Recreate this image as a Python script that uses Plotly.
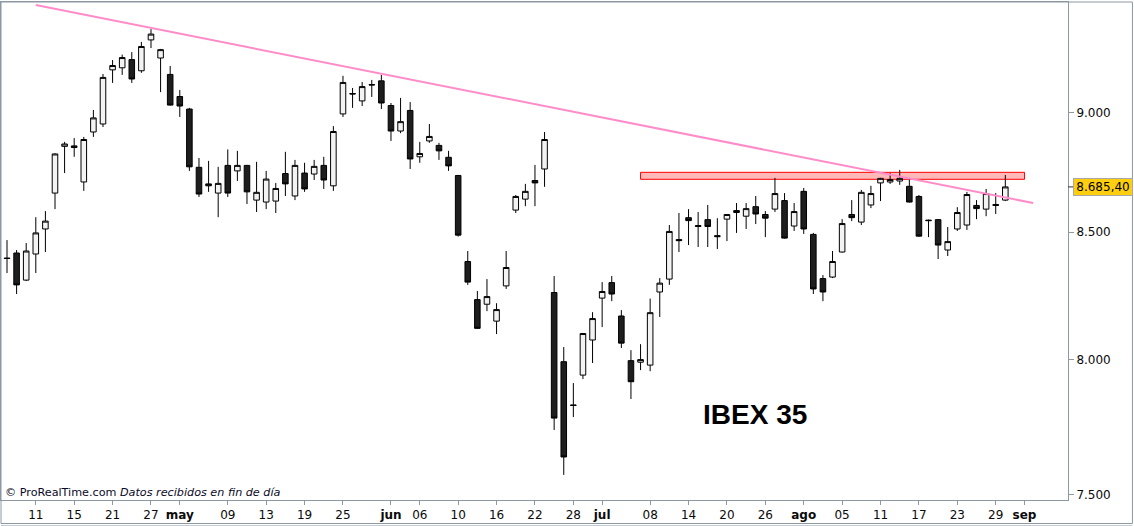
import math
import pandas as pd
import plotly.graph_objects as go

# ---------------- data (IBEX 35, daily candles) ----------------
start_date = "2016-04-06"
end_date = "2016-09-01"

opens = [8396, 8416, 8308, 8412, 8513, 8660, 8855, 8857, 8706, 8916,
         8950, 9184, 9193, 9229, 9180, 9316, 9236, 9164, 9068, 9014,
         8767, 8698, 8660, 8775, 8752, 8775, 8631, 8623, 8627, 8741,
         8648, 8743, 8739, 8775, 8690, 8993, 9081, 9049, 9120, 9136,
         9029, 8920, 9008, 8811, 8878, 8859, 8809, 8733, 8382, 8231,
         8213, 8147, 8285, 8590, 8635, 8712, 8760, 8259, 7991, 7828,
         7940, 8074, 8237, 8298, 8167, 7995, 7989, 7978, 8261, 8312,
         8470, 8559, 8527, 8551, 8486, 8553, 8588, 8565, 8604, 8572,
         8594, 8629, 8525, 8667, 8491, 8314, 8320, 8420, 8572, 8541,
         8611, 8702, 8706, 8710, 8688, 8646, 8549, 8551, 8428, 8513,
         8529, 8609, 8594, 8613, 8631]

highs = [8468, 8428, 8456, 8561, 8586, 8826, 8874, 8890, 8895, 9010,
         9166, 9227, 9251, 9262, 9307, 9364, 9276, 9201, 9096, 9019,
         8806, 8794, 8769, 8842, 8836, 8777, 8790, 8752, 8702, 8832,
         8798, 8786, 8798, 8811, 8941, 9158, 9105, 9131, 9140, 9162,
         9040, 9062, 9044, 8874, 8950, 8870, 8836, 8735, 8424, 8265,
         8312, 8217, 8424, 8652, 8698, 8777, 8916, 8324, 8047, 7910,
         8101, 8182, 8300, 8324, 8190, 8035, 8058, 8235, 8316, 8529,
         8578, 8594, 8582, 8611, 8557, 8574, 8619, 8619, 8648, 8586,
         8723, 8660, 8619, 8681, 8497, 8328, 8424, 8553, 8631, 8673,
         8690, 8723, 8743, 8756, 8718, 8652, 8551, 8553, 8521, 8602,
         8665, 8631, 8677, 8660, 8735]

lows = [8336, 8253, 8304, 8336, 8420, 8594, 8743, 8811, 8669, 8895,
        8937, 9127, 9162, 9127, 9171, 9280, 9087, 9029, 8980, 8752,
        8644, 8665, 8561, 8644, 8710, 8615, 8582, 8594, 8578, 8648,
        8631, 8665, 8714, 8677, 8669, 8980, 9019, 9027, 9066, 9014,
        8878, 8911, 8760, 8786, 8870, 8798, 8752, 8482, 8289, 8117,
        8186, 8097, 8273, 8578, 8606, 8606, 8686, 7735, 7571, 7783,
        7925, 7986, 8124, 8225, 8043, 7850, 7959, 7955, 8163, 8289,
        8420, 8448, 8440, 8440, 8432, 8464, 8497, 8513, 8533, 8480,
        8582, 8474, 8505, 8493, 8253, 8225, 8316, 8418, 8545, 8529,
        8598, 8627, 8698, 8694, 8621, 8482, 8480, 8392, 8404, 8505,
        8509, 8553, 8565, 8574, 8627]

closes = [8394, 8289, 8424, 8497, 8545, 8823, 8865, 8850, 8884, 8976,
          9151, 9203, 9238, 9144, 9287, 9342, 9273, 9031, 9027, 8769,
          8656, 8690, 8700, 8660, 8775, 8665, 8663, 8718, 8679, 8698,
          8775, 8677, 8771, 8714, 8918, 9129, 9079, 9111, 9118, 9040,
          8920, 8960, 8802, 8825, 8897, 8836, 8773, 8488, 8300, 8119,
          8243, 8192, 8358, 8646, 8667, 8702, 8884, 7779, 7636, 7826,
          8099, 8157, 8263, 8253, 8062, 7915, 7999, 8180, 8296, 8503,
          8466, 8547, 8523, 8523, 8482, 8572, 8580, 8596, 8574, 8557,
          8658, 8476, 8584, 8513, 8273, 8261, 8382, 8535, 8559, 8663,
          8658, 8721, 8716, 8721, 8623, 8484, 8547, 8448, 8462, 8580,
          8654, 8596, 8658, 8609, 8685.40]

tick_dates = ["2016-04-11", "2016-04-15", "2016-04-21", "2016-04-27", "2016-05-02",
              "2016-05-09", "2016-05-13", "2016-05-19", "2016-05-25", "2016-06-01",
              "2016-06-06", "2016-06-10", "2016-06-16", "2016-06-22", "2016-06-28",
              "2016-07-01", "2016-07-08", "2016-07-14", "2016-07-20", "2016-07-26",
              "2016-08-01", "2016-08-05", "2016-08-11", "2016-08-17", "2016-08-23",
              "2016-08-29", "2016-09-01"]
tick_labels = ["11", "15", "21", "27", "<b>may</b>", "09", "13", "19", "25", "<b>jun</b>",
               "06", "10", "16", "22", "28", "<b>jul</b>", "08", "14", "20", "26",
               "<b>ago</b>", "05", "11", "17", "23", "29", "<b>sep</b>"]

price_ticks = [7500, 8000, 8500, 9000]
price_range = [7481, 9486]

# trend line (through the April and May highs) and resistance zone
trend_x = [3, 106.9]          # trading-day index
trend_y = [9472, 8619]
zone_x = [66, 106]
zone_y = [8717, 8746]

# ---------------- build ----------------
calendar = pd.bdate_range(start_date, end_date)
dates = calendar[:len(closes)]
xi = list(range(len(closes)))
tickvals = [calendar.get_loc(pd.Timestamp(d)) for d in tick_dates]

def fmt_es(v, dec=0):
    s = f"{v:,.{dec}f}"
    return s.replace(",", "X").replace(".", ",").replace("X", ".")

FRAME = "#8c98a2"
AXFONT = dict(family="DejaVu Sans, Verdana, sans-serif", size=12, color="#0a0a0a")

fig = go.Figure()

fig.add_trace(go.Candlestick(
    x=xi, open=opens, high=highs, low=lows, close=closes,
    text=[d.strftime("%d/%m/%Y") for d in dates],
    increasing=dict(line=dict(color="#000000", width=1), fillcolor="#f3f3f3"),
    decreasing=dict(line=dict(color="#000000", width=1), fillcolor="#1e1e1e"),
    whiskerwidth=0, showlegend=False, hoverinfo="text+y",
))

fig.add_trace(go.Scatter(
    x=trend_x, y=trend_y, mode="lines",
    line=dict(color="#ff8cc8", width=2), showlegend=False, hoverinfo="skip",
))

shapes = [
    # resistance zone
    dict(type="rect", xref="x", yref="y", x0=zone_x[0], x1=zone_x[1],
         y0=zone_y[0], y1=zone_y[1], fillcolor="#ffb9b9",
         line=dict(color="#ff0000", width=1), layer="below"),
    # outer frame
    dict(type="rect", xref="paper", yref="paper", x0=0, x1=1.0604,
         y0=-0.0472, y1=1, line=dict(color=FRAME, width=1), layer="above"),
    dict(type="line", xref="paper", yref="paper", x0=0, x1=1.0604,
         y0=-0.0512, y1=-0.0512, line=dict(color="#c4cacf", width=1)),
    # tick mark of last price
    dict(type="line", xref="paper", yref="y", x0=1, x1=1.0047,
         y0=closes[-1], y1=closes[-1], line=dict(color="#333333", width=1)),
]

annotations = [
    dict(xref="paper", yref="y", x=1, y=math.log10(closes[-1]), xanchor="left",
         yanchor="middle", xshift=5, text=fmt_es(closes[-1], 2), showarrow=False,
         font=dict(family="DejaVu Sans, Verdana, sans-serif", size=12, color="#000000"),
         bgcolor="#ffcf0f", bordercolor="#a8a8a8", borderwidth=1, borderpad=1,
         width=56, align="center"),
    dict(xref="paper", yref="paper", x=0.7071, y=0.1707, xanchor="center",
         yanchor="middle", text="<b>IBEX 35</b>", showarrow=False,
         font=dict(family="Liberation Sans, Arial, sans-serif", size=28, color="#000000")),
    dict(xref="paper", yref="paper", x=0, y=0, xanchor="left", yanchor="bottom",
         xshift=2, yshift=-1,
         text="© ProRealTime.com <i>Datos recibidos en fin de día</i>", showarrow=False,
         font=dict(family="DejaVu Sans, Verdana, sans-serif", size=11.2, color="#0a0a28")),
]

fig.update_layout(
    width=1134, height=526,
    margin=dict(l=1, r=66, t=2, b=26),
    paper_bgcolor="#ffffff", plot_bgcolor="#ffffff",
    boxgap=0.42, boxgroupgap=0,
    showlegend=False,
    shapes=shapes, annotations=annotations,
    xaxis=dict(
        range=[-0.625, 110.53], tickmode="array", tickvals=tickvals, ticktext=tick_labels,
        ticks="outside", ticklen=4, tickcolor=FRAME, tickfont=AXFONT,
        showline=True, linecolor=FRAME, linewidth=1, mirror=True,
        showgrid=False, zeroline=False, rangeslider=dict(visible=False), fixedrange=True,
    ),
    yaxis=dict(
        type="log", side="right",
        range=[math.log10(price_range[0]), math.log10(price_range[1])],
        tickmode="array", tickvals=price_ticks, ticktext=[fmt_es(v) for v in price_ticks],
        ticks="outside", ticklen=5, tickcolor=FRAME, tickfont=AXFONT,
        showline=True, linecolor=FRAME, linewidth=1, mirror=True,
        showgrid=False, zeroline=False, fixedrange=True,
    ),
)

fig.write_html(
    "out.html",
    config={"displayModeBar": False},
    post_script="document.body.style.margin='0';document.body.style.padding='0';"
                "document.body.style.overflow='hidden';",
)
